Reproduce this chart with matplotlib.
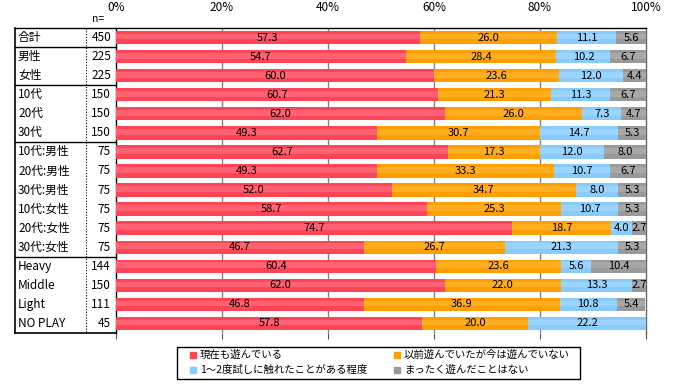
import numpy as np
import matplotlib
matplotlib.use("Agg")
from matplotlib import pyplot as plt
from matplotlib.patches import Rectangle

plt.rcParams['font.family'] = ['Noto Sans CJK JP', 'DejaVu Sans']

labels = ["合計", "男性", "女性", "10代", "20代", "30代",
          "10代:男性", "20代:男性", "30代:男性",
          "10代:女性", "20代:女性", "30代:女性",
          "Heavy", "Middle", "Light", "NO PLAY"]
n_vals = [450, 225, 225, 150, 150, 150, 75, 75, 75, 75, 75, 75, 144, 150, 111, 45]

playing_now = [57.3, 54.7, 60.0, 60.7, 62.0, 49.3, 62.7, 49.3, 52.0, 58.7, 74.7, 46.7, 60.4, 62.0, 46.8, 57.8]
played_before = [26.0, 28.4, 23.6, 21.3, 26.0, 30.7, 17.3, 33.3, 34.7, 25.3, 18.7, 26.7, 23.6, 22.0, 36.9, 20.0]
tried_once = [11.1, 10.2, 12.0, 11.3, 7.3, 14.7, 12.0, 10.7, 8.0, 10.7, 4.0, 21.3, 5.6, 13.3, 10.8, 22.2]
never = [5.6, 6.7, 4.4, 6.7, 4.7, 5.3, 8.0, 6.7, 5.3, 5.3, 2.7, 5.3, 10.4, 2.7, 5.4, 0.0]

series_names = ["現在も遊んでいる", "以前遊んでいたが今は遊んでいない",
                "1～2度試しに触れたことがある程度", "まったく遊んだことはない"]
colors = ["#FF4455", "#FFA000", "#88CCFF", "#999999"]
highlights = ["#FF6272", "#FFAE22", "#9AD4FF", "#A8A8A8"]

group_breaks = [0.5, 2.5, 5.5, 11.5]

fig = plt.figure(figsize=(6.73, 3.87), dpi=100)
ax = fig.add_axes([116/673, 1-333/387, 530/673, 305/387])

y = np.arange(len(labels))
series = [playing_now, played_before, tried_once, never]
left = np.zeros(len(labels))
for vals, c, hc in zip(series, colors, highlights):
    vals = np.array(vals)
    ax.barh(y, vals, left=left, height=0.7, color=c, zorder=3)
    # soft light stripe across each bar
    ax.barh(y - 0.05, vals, left=left, height=0.3, color=hc, zorder=3, linewidth=0)
    for yi, l, v in zip(y, left, vals):
        if v > 0:
            ax.text(l + v/2, yi, f"{v:.1f}", ha="center", va="center",
                    fontsize=8, zorder=5, color="black")
    left = left + vals

ax.set_xlim(0, 100)
ax.set_ylim(len(labels) - 0.5, -0.5)
ax.set_yticks([])
ax.set_xticks([0, 20, 40, 60, 80, 100])
ax.set_xticklabels(["0%", "20%", "40%", "60%", "80%", "100%"])
ax.tick_params(axis="x", bottom=True, top=False, labelbottom=False, labeltop=True,
               direction="out", length=4, color="#555555", labelsize=8.5, pad=6)
for xv in [20, 40, 60, 80]:
    ax.axvline(xv, color="#808080", lw=1, zorder=1)
ax.spines["bottom"].set_visible(False)
ax.spines["top"].set_color("black")
ax.spines["left"].set_color("black")
ax.spines["right"].set_color("#666666")
for s in ["top", "left", "right"]:
    ax.spines[s].set_linewidth(1)

# table on the left
tr = ax.get_yaxis_transform()
x_box = (15 - 116) / 530
x_div = (86 - 116) / 530
ax.plot([x_box, 0], [-0.5, -0.5], transform=tr, color="black", lw=1, clip_on=False)
ax.plot([x_box, 0], [15.5, 15.5], transform=tr, color="black", lw=1.2, clip_on=False)
ax.plot([x_box, x_box], [-0.5, 15.5], transform=tr, color="black", lw=1.2, clip_on=False)
ax.plot([x_div, x_div], [-0.5, 15.5], transform=tr, color="black", lw=0.8,
        ls=(0, (1, 1.5)), clip_on=False)
for b in group_breaks:
    ax.plot([x_box, 0], [b, b], transform=tr, color="black", lw=1, clip_on=False)
for yi, lab, n in zip(y, labels, n_vals):
    ax.text((18 - 116) / 530, yi, lab, transform=tr, ha="left", va="center", fontsize=8.5)
    ax.text((111 - 116) / 530, yi, str(n), transform=tr, ha="right", va="center", fontsize=8.5)
fig.text(92/673, 1 - 19/387, "n=", ha="left", va="center", fontsize=7.5)

# legend box
lx0, lx1, ly0, ly1 = 177, 580, 347, 379
fig.patches.append(Rectangle((lx0/673, 1 - ly1/387), (lx1 - lx0)/673, (ly1 - ly0)/387,
                             transform=fig.transFigure, fill=False, ec="black", lw=1))
leg_pos = [(193, 355), (397, 355), (193, 370), (397, 370)]
for (px, py), name, c in zip(leg_pos, series_names, colors):
    fig.patches.append(Rectangle(((px - 3)/673, 1 - (py + 3)/387), 6/673, 6/387,
                                 transform=fig.transFigure, color=c))
    fig.text((px + 7)/673, 1 - py/387, name, ha="left", va="center", fontsize=7.5)

fig.savefig("out.png", dpi=100)
